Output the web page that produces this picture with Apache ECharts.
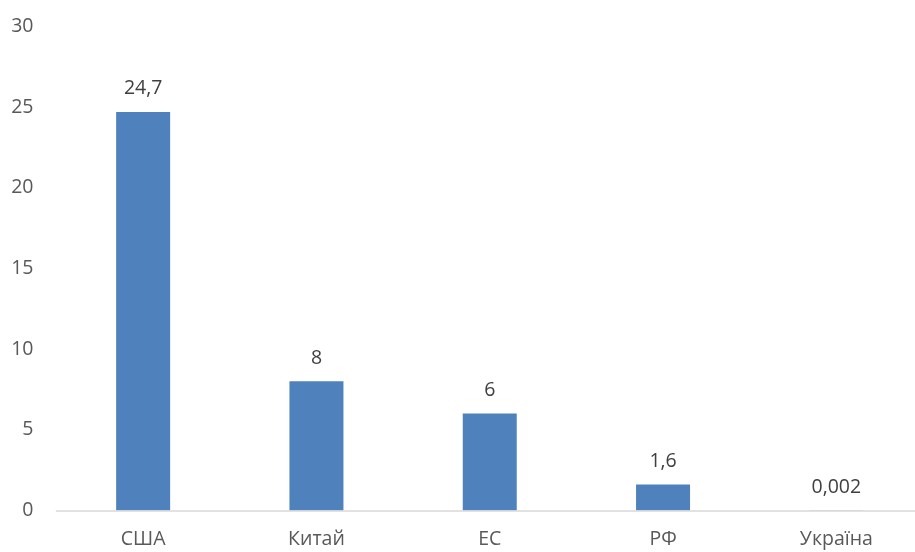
<!DOCTYPE html>
<html>
<head>
<meta charset="utf-8">
<script src="https://cdn.jsdelivr.net/npm/echarts@6/dist/echarts.min.js"></script>
<style>html,body{margin:0;padding:0;background:#fff;overflow:hidden;width:915px;height:552px}#c{width:923px;height:552px}</style>
</head>
<body>
<div id="c"></div>
<script>
const categories = ['США', 'Китай', 'ЕС', 'РФ', 'Україна'];
const values = [24.7, 8, 6, 1.6, 0.002];
const yTicks = [0, 5, 10, 15, 20, 25, 30];

const font = 'Open Sans, Noto Sans, sans-serif';
const chart = echarts.init(document.getElementById('c'));
chart.setOption({
  animation: false,
  grid: { left: 56.5, top: 26.4, right: 0, bottom: 41.6, containLabel: false },
  xAxis: {
    type: 'category',
    data: categories,
    z: 5,
    axisLine: { lineStyle: { color: '#D9D9D9', width: 1.5 } },
    axisTick: { show: false },
    axisLabel: { color: '#595959', fontSize: 19.5, fontFamily: font, margin: 19 }
  },
  yAxis: {
    type: 'value',
    min: yTicks[0],
    max: yTicks[yTicks.length - 1],
    interval: 5,
    splitLine: { show: false },
    axisLine: { show: false },
    axisTick: { show: false },
    axisLabel: { color: '#595959', fontSize: 19.5, fontFamily: font, margin: 23 }
  },
  series: [{
    type: 'bar',
    data: values,
    barWidth: 54,
    itemStyle: { color: '#4F81BD' },
    label: {
      show: true,
      position: 'top',
      distance: 13,
      color: '#404040',
      fontSize: 19.5,
      fontFamily: font,
      formatter: p => String(p.value).replace('.', ',')
    }
  }]
});
</script>
</body>
</html>
